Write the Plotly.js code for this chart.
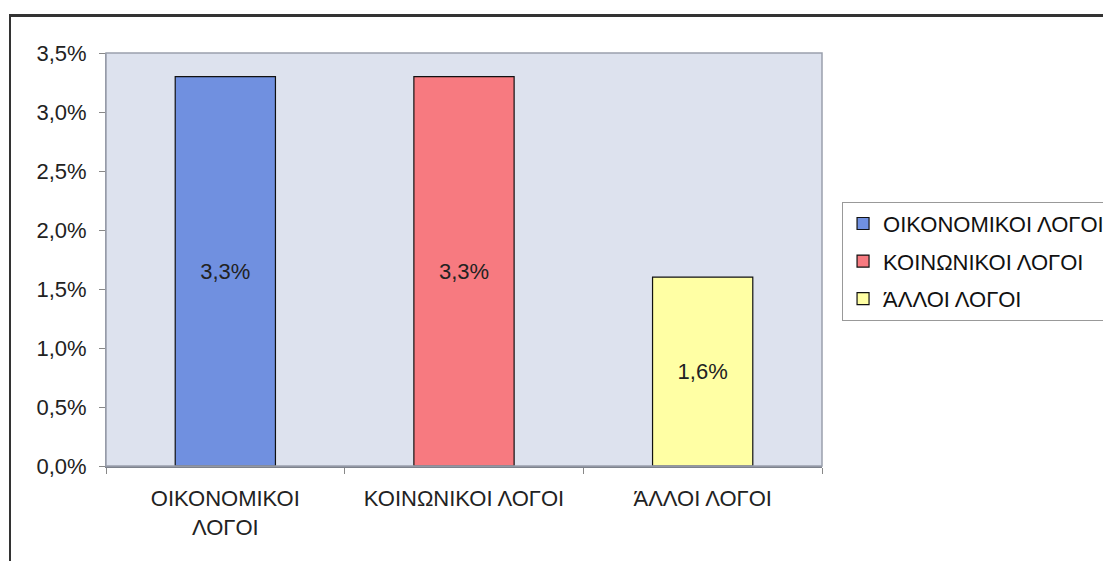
<!DOCTYPE html>
<html>
<head>
<meta charset="utf-8">
<script src="https://cdn.plot.ly/plotly-3.0.1.min.js"></script>
<style>
html,body{margin:0;padding:0;background:#fff;overflow:hidden;}
#wrap{position:relative;width:1103px;height:561px;}
#chart{position:absolute;left:0;top:0;width:1103px;height:561px;}
#frame{position:absolute;left:9px;top:14px;width:1200px;height:700px;border-left:2px solid #333;border-top:3px solid #333;pointer-events:none;}
</style>
</head>
<body>
<div id="wrap"><div id="chart"></div><div id="frame"></div></div>
<script>
const categories = ["ΟΙΚΟΝΟΜΙΚΟΙ<br>ΛΟΓΟΙ", "ΚΟΙΝΩΝΙΚΟΙ ΛΟΓΟΙ", "ΆΛΛΟΙ ΛΟΓΟΙ"];
const seriesNames = ["ΟΙΚΟΝΟΜΙΚΟΙ ΛΟΓΟΙ", "ΚΟΙΝΩΝΙΚΟΙ ΛΟΓΟΙ", "ΆΛΛΟΙ ΛΟΓΟΙ"];
const values = [0.033, 0.033, 0.016];
const colors = ["#7090E0", "#F77A80", "#FFFFA4"];

const FONT = "Liberation Sans, Arial, sans-serif";
const FS = 22;

const traces = categories.map((c, i) => ({
  type: "bar",
  name: seriesNames[i],
  legendgroup: "g" + i,
  x: [c],
  y: [values[i]],
  width: 0.42,
  marker: {color: colors[i], line: {color: "#111", width: 1.2}},
  texttemplate: "%{y:.1%}",
  textposition: "inside",
  insidetextanchor: "middle",
  textangle: 0,
  textfont: {family: FONT, size: FS, color: "#222"},
  hoverinfo: "skip"
}));

const layout = {
  width: 1103, height: 561,
  margin: {l: 106, r: 281, t: 53, b: 95, autoexpand: false},
  paper_bgcolor: "#ffffff",
  plot_bgcolor: "#DDE2EE",
  separators: ",.",
  barmode: "overlay",
  showlegend: true,
  font: {family: FONT, size: FS, color: "#222"},
  xaxis: {
    type: "category",
    categoryorder: "array",
    categoryarray: categories,
    tickson: "boundaries",
    ticks: "outside", ticklen: 6, tickcolor: "#888",
    showline: true, linecolor: "#7d828c", linewidth: 1.5,
    showgrid: false,
    automargin: false,
    ticklabelstandoff: 12,
    tickfont: {family: FONT, size: FS, color: "#222"}
  },
  yaxis: {
    range: [0, 0.035],
    dtick: 0.005,
    tickformat: ".1%",
    ticks: "outside", ticklen: 6, tickcolor: "#888",
    showline: true, linecolor: "#8a8f99", linewidth: 1,
    showgrid: false, zeroline: false,
    automargin: false,
    ticklabelstandoff: 8,
    tickfont: {family: FONT, size: FS, color: "#222"}
  },
  shapes: [{
    type: "rect", xref: "paper", yref: "paper", x0: 0, x1: 1, y0: 0, y1: 1,
    line: {color: "#9aa0ad", width: 1.5}, fillcolor: "rgba(0,0,0,0)", layer: "above"
  }],
  legend: {
    x: 1.028, y: 0.64, xanchor: "left", yanchor: "top",
    bgcolor: "#ffffff", bordercolor: "#999", borderwidth: 1,
    traceorder: "grouped", tracegroupgap: 6,
    font: {family: FONT, size: FS, color: "#111"},
    itemwidth: 30
  }
};

Plotly.newPlot("chart", traces, layout, {displayModeBar: false, staticPlot: true});
</script>
</body>
</html>
